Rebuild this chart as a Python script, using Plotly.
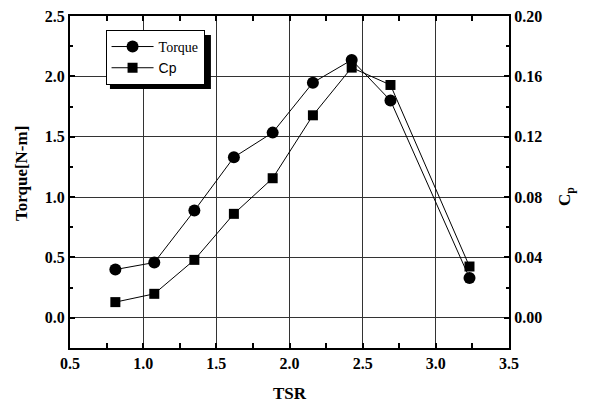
import plotly.graph_objects as go

tsr = [0.81, 1.076, 1.35, 1.62, 1.885, 2.16, 2.425, 2.69, 3.23]
torque = [0.40, 0.458, 0.888, 1.33, 1.534, 1.948, 2.136, 1.80, 0.33]
cp = [0.0104, 0.0159, 0.0384, 0.0689, 0.0925, 0.1342, 0.1658, 0.1543, 0.034]

x_ticks = [0.5, 1.0, 1.5, 2.0, 2.5, 3.0, 3.5]
y_ticks = [0.0, 0.5, 1.0, 1.5, 2.0, 2.5]
y2_ticks = [0.00, 0.04, 0.08, 0.12, 0.16, 0.20]

SERIF = "Liberation Serif, Times New Roman, serif"
SANS = "Liberation Sans, Arial, sans-serif"

fig = go.Figure()
fig.add_trace(go.Scatter(
    x=tsr, y=torque, name="Torque", mode="lines+markers",
    line=dict(color="black", width=1),
    marker=dict(symbol="circle", size=12, color="black"),
))
fig.add_trace(go.Scatter(
    x=tsr, y=cp, name="<span style='font-family:Liberation Sans, Arial, sans-serif'>Cp</span>",
    mode="lines+markers", yaxis="y2",
    line=dict(color="black", width=1),
    marker=dict(symbol="square", size=10, color="black"),
))

axis_common = dict(
    showline=True, linecolor="black", linewidth=2,
    ticks="inside", ticklen=5, tickwidth=1.5, tickcolor="black",
    tickfont=dict(family=SERIF, size=16, color="black", weight="bold"),
    zeroline=False, automargin=False,
)

title_font = dict(family=SERIF, size=17, color="black")

fig.update_layout(
    width=595, height=405,
    margin=dict(l=70, r=86, t=16, b=57),
    paper_bgcolor="white", plot_bgcolor="white",
    showlegend=True,
    xaxis=dict(
        range=[0.5, 3.5], tickvals=x_ticks, tickformat=".1f",
        showgrid=True, gridcolor="#333", gridwidth=1,
        mirror="allticks",
        minor=dict(ticks="inside", ticklen=3, tickwidth=1.5, tickcolor="black", dtick=0.25, showgrid=False),
        title=dict(text="<b>TSR</b>", font=title_font, standoff=16),
        **axis_common,
    ),
    yaxis=dict(
        range=[-0.25, 2.5], tickvals=y_ticks, tickformat=".1f",
        showgrid=True, gridcolor="#333", gridwidth=1,
        mirror="allticks",
        minor=dict(ticks="inside", ticklen=3, tickwidth=1.5, tickcolor="black", dtick=0.25, tick0=0, showgrid=False),
        **axis_common,
    ),
    yaxis2=dict(
        range=[-0.02, 0.20], tickvals=y2_ticks, tickformat=".2f",
        overlaying="y", side="right", showgrid=False,
        **axis_common,
    ),
    legend=dict(
        x=0.081, y=0.958, xanchor="left", yanchor="top",
        bgcolor="white", bordercolor="black", borderwidth=1,
        font=dict(family=SERIF, size=14, color="black"),
        tracegroupgap=0, itemwidth=42,
    ),
    shapes=[dict(
        type="rect", xref="paper", yref="paper",
        x0=0.091, x1=0.321, y0=0.780, y1=0.943,
        fillcolor="black", line=dict(width=0), layer="above",
    )],
    annotations=[
        dict(text="<b>Torque[N-m]</b>", xref="paper", yref="paper",
             x=-0.1116, y=0.524, textangle=-90, showarrow=False,
             xanchor="center", yanchor="middle", font=title_font),
        dict(text="<b>C<sub>p</sub></b>", xref="paper", yref="paper",
             x=1.130, y=0.455, textangle=-90, showarrow=False,
             xanchor="center", yanchor="middle", font=title_font),
    ],
)

fig.write_html("out.html", config={"displayModeBar": False},
               post_script="document.body.style.margin='0';document.body.style.padding='0';")
